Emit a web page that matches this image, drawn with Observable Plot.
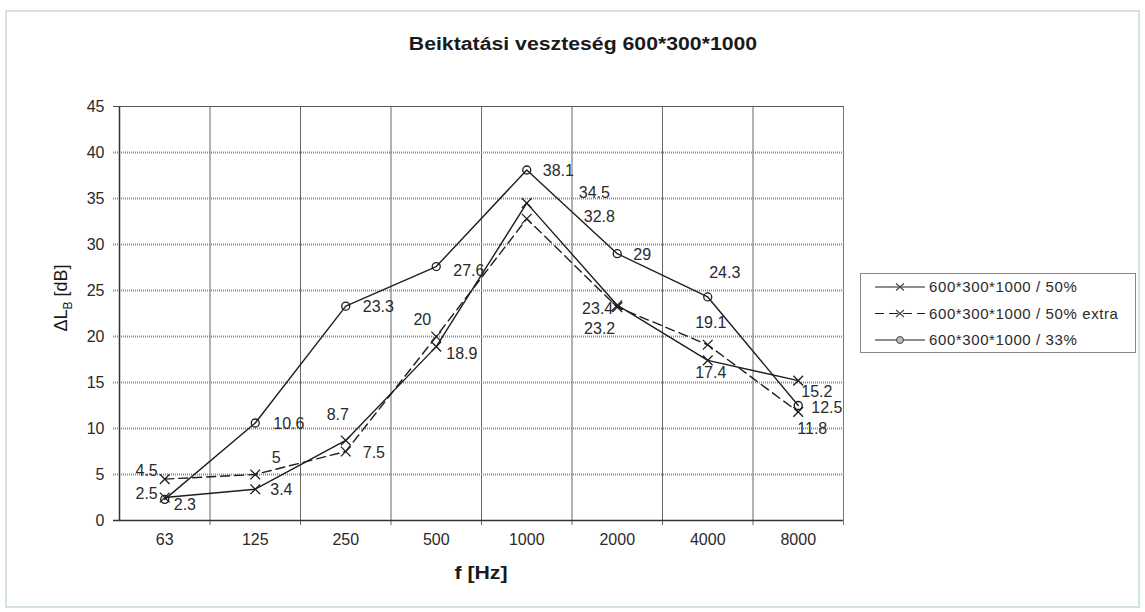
<!DOCTYPE html>
<html>
<head>
<meta charset="utf-8">
<script src="https://cdn.jsdelivr.net/npm/d3@7"></script>
<script src="https://cdn.jsdelivr.net/npm/@observablehq/plot@0.6"></script>
<style>
  html, body { margin: 0; padding: 0; background: #fff; }
  body { width: 1145px; height: 612px; position: relative; overflow: hidden; font-family: "Liberation Sans", Arial, sans-serif; }
  #frame { position: absolute; left: 5px; top: 10px; width: 1135px; height: 598px; border: 2px solid #d3e3e3; box-sizing: border-box; }
  #chart { position: absolute; left: 0; top: 0; }
  #title { position: absolute; top: 34px; left: 583px; transform: translateX(-50%) scaleX(1.18); font-weight: bold; font-size: 18px; color: #1a1a1a; white-space: nowrap; }
  #xtitle { position: absolute; top: 562px; left: 481px; transform: translateX(-50%) scaleX(1.12); font-weight: bold; font-size: 19px; color: #1a1a1a; white-space: nowrap; }
  #ytitle { position: absolute; left: 63px; top: 298px; transform: translate(-50%, -50%) rotate(-90deg); font-size: 18px; color: #1a1a1a; white-space: nowrap; }
  #ytitle sub { font-size: 12px; }
  #legend { position: absolute; left: 860px; top: 273px; }
</style>
</head>
<body>
<div id="frame"></div>
<div id="chart"></div>
<div id="title"></div>
<div id="xtitle"></div>
<div id="ytitle"></div>
<div id="legend"></div>
<script>
// ---- data ----
const categories = ["63", "125", "250", "500", "1000", "2000", "4000", "8000"];
const seriesNames = ["600*300*1000 / 50%", "600*300*1000 / 50% extra", "600*300*1000 / 33%"];
const s50 = [2.5, 3.4, 8.7, 18.9, 34.5, 23.4, 17.4, 15.2];
const s50extra = [4.5, 5, 7.5, 20, 32.8, 23.2, 19.1, 11.8];
const s33 = [2.3, 10.6, 23.3, 27.6, 38.1, 29, 24.3, 12.5];
const yTicks = [0, 5, 10, 15, 20, 25, 30, 35, 40, 45];
const titleText = "Beiktatási veszteség 600*300*1000";
const xTitle = "f [Hz]";

// label placement (pixel offsets, anchor) per series, per category
const labelPlacement = [
  [[-7,-4,"end"],[15,1,"start"],[-8,-26,"middle"],[10,7,"start"],[52,-10,"start"],[-4,4,"end"],[3,12,"middle"],[3,11,"start"]],
  [[-7,-8,"end"],[21,-17,"middle"],[17,1,"start"],[-5,-17,"end"],[57,-2,"start"],[-2,22,"end"],[3,-22,"middle"],[14,17,"middle"]],
  [[9,6,"start"],[18,1,"start"],[17,1,"start"],[17,4,"start"],[16,1,"start"],[16,1,"start"],[17,-24,"middle"],[13,2,"start"]]
];

const seriesValues = [s50, s50extra, s33];
const series = seriesNames.map((name, k) => ({
  name,
  values: seriesValues[k].map((v, i) => ({ i, cat: categories[i], v, k }))
}));
const boundaries = d3.range(categories.length + 1).map(i => i - 0.5);

const ink = "#1e1e1e";
const marks = [
  Plot.ruleX(boundaries.slice(1, -1), { stroke: "#666", strokeWidth: 1, insetBottom: -5 }),
  Plot.ruleY(yTicks.filter(t => t > 0 && t < 45), { stroke: "#8a8a8a", strokeWidth: 2, strokeDasharray: "1,1", insetLeft: -6 }),
  Plot.ruleY([45], { stroke: "#555", strokeWidth: 1.2, insetLeft: -6 }),
  Plot.ruleX([boundaries[boundaries.length - 1]], { stroke: "#777", strokeWidth: 1, insetBottom: -5 }),
  Plot.ruleX([boundaries[0]], { stroke: "#333", strokeWidth: 1.5 }),
  Plot.ruleY([0], { stroke: "#333", strokeWidth: 1.5, insetLeft: -6 }),
  Plot.axisY({ ticks: yTicks, tickSize: 0, tickPadding: 15, fontSize: 16, fill: "#2a2a2a", label: null }),
  Plot.axisX({ ticks: d3.range(categories.length), tickFormat: i => categories[i], tickSize: 0, tickPadding: 13, fontSize: 16, fill: "#2a2a2a", label: null })
];

series.forEach((s, k) => {
  marks.push(Plot.line(s.values, {
    x: "i", y: "v", stroke: ink, strokeWidth: 1.4,
    strokeDasharray: k === 1 ? "9,5" : null
  }));
  marks.push(Plot.dot(s.values, {
    x: "i", y: "v",
    symbol: k === 2 ? "circle" : "times",
    r: k === 2 ? 4 : 4.5,
    stroke: ink, strokeWidth: 1.3, fill: k === 2 ? "none" : null
  }));
  s.values.forEach((d, i) => {
    const [dx, dy, anchor] = labelPlacement[k][i];
    marks.push(Plot.text([d], {
      x: "i", y: "v", text: d => String(d.v),
      dx, dy, textAnchor: anchor, fontSize: 16, fill: "#2a2a2a"
    }));
  });
});

const chart = Plot.plot({
  width: 1145,
  height: 612,
  marginLeft: 119,
  marginRight: 302,
  marginTop: 106,
  marginBottom: 92,
  style: { fontFamily: "Liberation Sans, Arial, sans-serif", background: "transparent", overflow: "visible" },
  x: { type: "linear", domain: [boundaries[0], boundaries[boundaries.length - 1]] },
  y: { domain: [0, 45] },
  marks
});
document.getElementById("chart").appendChild(chart);

document.getElementById("title").textContent = titleText;
document.getElementById("xtitle").textContent = xTitle;
document.getElementById("ytitle").innerHTML = "&Delta;L<sub>B</sub> [dB]";

// legend
const lg = d3.select("#legend").append("svg").attr("width", 277).attr("height", 81)
  .style("font-family", "Liberation Sans, Arial, sans-serif");
lg.append("rect").attr("x", 0.5).attr("y", 0.5).attr("width", 275).attr("height", 79)
  .attr("fill", "#fff").attr("stroke", "#888");
seriesNames.forEach((name, k) => {
  const y = 14 + k * 26.5;
  const g = lg.append("g").attr("transform", `translate(0,${y})`);
  g.append("line").attr("x1", 15).attr("x2", 65).attr("y1", 0).attr("y2", 0)
    .attr("stroke", ink).attr("stroke-width", 1.2).attr("stroke-dasharray", k === 1 ? "9,5" : null);
  if (k === 2) {
    g.append("circle").attr("cx", 40).attr("cy", 0).attr("r", 3.5).attr("fill", "#bbb").attr("stroke", "#444");
  } else {
    g.append("path").attr("d", "M36,-3.5L44,3.5M36,3.5L44,-3.5").attr("stroke", "#444").attr("stroke-width", 1.1);
  }
  g.append("text").attr("x", 69).attr("y", 5).attr("font-size", 15).attr("letter-spacing", 0.6)
    .attr("fill", "#2a2a2a").text(name);
});
</script>
</body>
</html>
